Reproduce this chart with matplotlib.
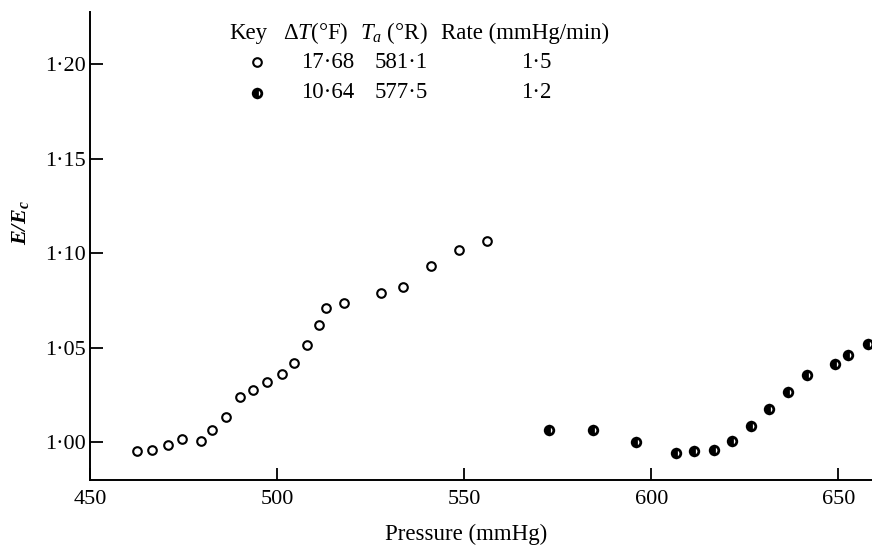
import matplotlib
matplotlib.use("Agg")
import matplotlib.pyplot as plt
import matplotlib.ticker as ticker

# --- DATA ---
p_open = [462.5, 466.6, 470.8, 474.7, 479.6, 482.6, 486.3, 490.1, 493.6, 497.3,
          501.2, 504.4, 507.9, 511.1, 513.0, 517.9, 527.9, 533.6, 541.1, 548.7, 556.0]
e_open = [0.9954, 0.9958, 0.9983, 1.0016, 1.0007, 1.0067, 1.0134, 1.0237, 1.0277, 1.0316,
          1.0363, 1.0420, 1.0512, 1.0618, 1.0708, 1.0734, 1.0787, 1.0822, 1.0933, 1.1014, 1.1066]

p_half = [572.6, 584.4, 595.8, 606.6, 611.5, 616.9, 621.7, 626.6, 631.5, 636.5,
          641.5, 649.2, 652.5, 658.0]
e_half = [1.0067, 1.0063, 1.0000, 0.9943, 0.9951, 0.9958, 1.0007, 1.0085, 1.0177, 1.0263,
          1.0354, 1.0416, 1.0459, 1.0519]

key_header = ["Key", r"$\Delta T$(°F)", r"$T_a$ (°R)", "Rate (mmHg/min)"]
key_dT = ["17·68", "10·64"]
key_Ta = ["581·1", "577·5"]
key_rate = ["1·5", "1·2"]

x_ticks = [450, 500, 550, 600, 650]
y_ticks = [1.00, 1.05, 1.10, 1.15, 1.20]

plt.rcParams.update({
    "font.family": "Liberation Serif",
    "mathtext.fontset": "custom",
    "mathtext.rm": "Liberation Serif",
    "mathtext.it": "Liberation Serif:italic",
    "mathtext.bf": "Liberation Serif:bold:italic",
})

W, H = 872, 545
fig = plt.figure(figsize=(W / 100, H / 100), dpi=100)
ax = fig.add_axes([90 / W, 1 - 480 / H, 1 - 90 / W, (480 - 12) / H])

open_style = dict(linestyle="none", marker="o", markersize=6.2, markerfacecolor="white",
                  markeredgecolor="black", markeredgewidth=1.5)
half_style = dict(linestyle="none", marker="o", markersize=6.2, markerfacecolor="black",
                  markerfacecoloralt="white", fillstyle="left",
                  markeredgecolor="black", markeredgewidth=2.0)

ax.plot(p_open, e_open, **open_style)
ax.plot(p_half, e_half, **half_style)

ax.set_xlim(450, 659)
ax.set_ylim(0.98, 1.2275)

for s in ["top", "right"]:
    ax.spines[s].set_visible(False)
for s in ["left", "bottom"]:
    ax.spines[s].set_linewidth(1.4)

ax.set_xticks(x_ticks)
ax.set_yticks(y_ticks)
ax.yaxis.set_major_formatter(ticker.FuncFormatter(lambda v, pos: f"{v:.2f}".replace(".", "·")))
ax.tick_params(axis="both", direction="in", length=9, width=1.3, labelsize=16)
ax.tick_params(axis="y", pad=3)
ax.tick_params(axis="x", pad=7)

ax.set_xlabel("Pressure (mmHg)", fontsize=16.5)
ax.xaxis.set_label_coords(0.481, -0.093)
ax.set_ylabel(r"$\mathbf{E/E_c}$", fontsize=16)
ax.yaxis.set_label_coords(-0.075, 0.55)

# --- KEY TABLE ---
cols = [248, 316, 394, 525]
rows = [33, 62, 93]
for cx, txt in zip(cols, key_header):
    fig.text(cx / W, 1 - rows[0] / H, txt, ha="center", va="center", fontsize=16.5)
for i in range(2):
    y = 1 - rows[i + 1] / H
    fig.text(328 / W, y, key_dT[i], ha="center", va="center", fontsize=16.5)
    fig.text(401 / W, y, key_Ta[i], ha="center", va="center", fontsize=16.5)
    fig.text(536 / W, y, key_rate[i], ha="center", va="center", fontsize=16.5)
ax.plot([257 / W], [1 - rows[1] / H], transform=fig.transFigure, clip_on=False, **open_style)
ax.plot([257 / W], [1 - rows[2] / H], transform=fig.transFigure, clip_on=False, **half_style)

fig.savefig("out.png", dpi=100)
